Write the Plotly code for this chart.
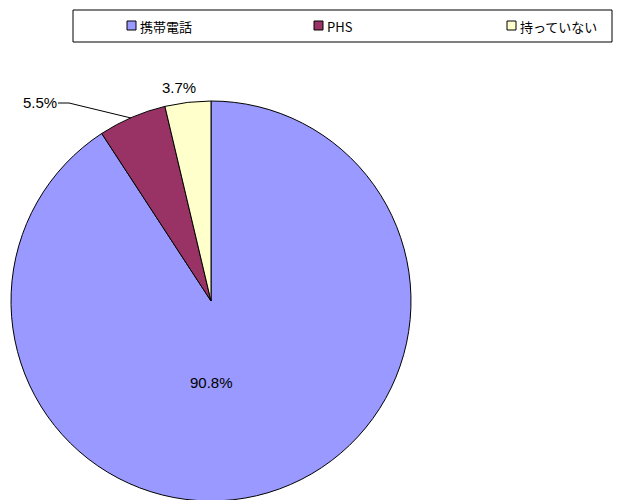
import plotly.graph_objects as go

labels = ["携帯電話", "PHS", "持っていない"]
values = [90.8, 5.5, 3.7]
colors = ["#9999FF", "#993366", "#FFFFCC"]
label_text = ["90.8%", "5.5%", "3.7%"]

W, H = 625, 500
OFF = 8  # page body margin offset
cx, cy, r = 211 - OFF, 301 - OFF, 200

def px(x):
    return (x - OFF) / W

def py(y):
    return 1 - (y - OFF) / H

fig = go.Figure()
fig.add_trace(go.Pie(
    labels=labels,
    values=values,
    marker=dict(colors=colors, line=dict(color="#000000", width=1)),
    sort=False,
    direction="clockwise",
    rotation=0,
    textinfo="none",
    hoverinfo="label+percent",
    showlegend=False,
    domain=dict(x=[(cx - r) / W, (cx + r) / W], y=[1 - (cy + r) / H, 1 - (cy - r) / H]),
))

lab_font = dict(family="Liberation Sans, Arial, sans-serif", size=15, color="#000000")
label_pos = [(211, 382), (40, 103), (179, 87)]
for txt, (lx, ly) in zip(label_text, label_pos):
    fig.add_annotation(x=px(lx), y=py(ly), xref="paper", yref="paper", text=txt,
                       showarrow=False, font=lab_font, xanchor="center", yanchor="middle")
# leader line for the small slice label
fig.add_shape(type="path", xref="paper", yref="paper",
              path=f"M {px(58)},{py(103)} L {px(69)},{py(103)} L {px(131)},{py(118)}",
              line=dict(color="#000000", width=1))

# legend (frame, swatches, labels)
fig.add_shape(type="rect", xref="paper", yref="paper",
              x0=px(73), x1=px(612), y0=py(42), y1=py(10),
              line=dict(color="#000000", width=1), fillcolor="#FFFFFF", layer="below")
leg_x = [127, 314, 507]
leg_font = dict(family="Noto Sans CJK JP, Liberation Sans, sans-serif", size=13, color="#000000")
for lab, col, lx in zip(labels, colors, leg_x):
    fig.add_shape(type="rect", xref="paper", yref="paper",
                  x0=px(lx), x1=px(lx + 9), y0=py(30), y1=py(21),
                  line=dict(color="#000000", width=1), fillcolor=col)
    fig.add_annotation(x=px(lx + 11), y=py(26), xref="paper", yref="paper", text=lab,
                       showarrow=False, font=leg_font, xanchor="left", yanchor="middle")

fig.update_layout(
    width=W, height=H,
    margin=dict(l=0, r=0, t=0, b=0),
    paper_bgcolor="#FFFFFF",
    plot_bgcolor="#FFFFFF",
    showlegend=False,
)

fig.write_html("out.html")
